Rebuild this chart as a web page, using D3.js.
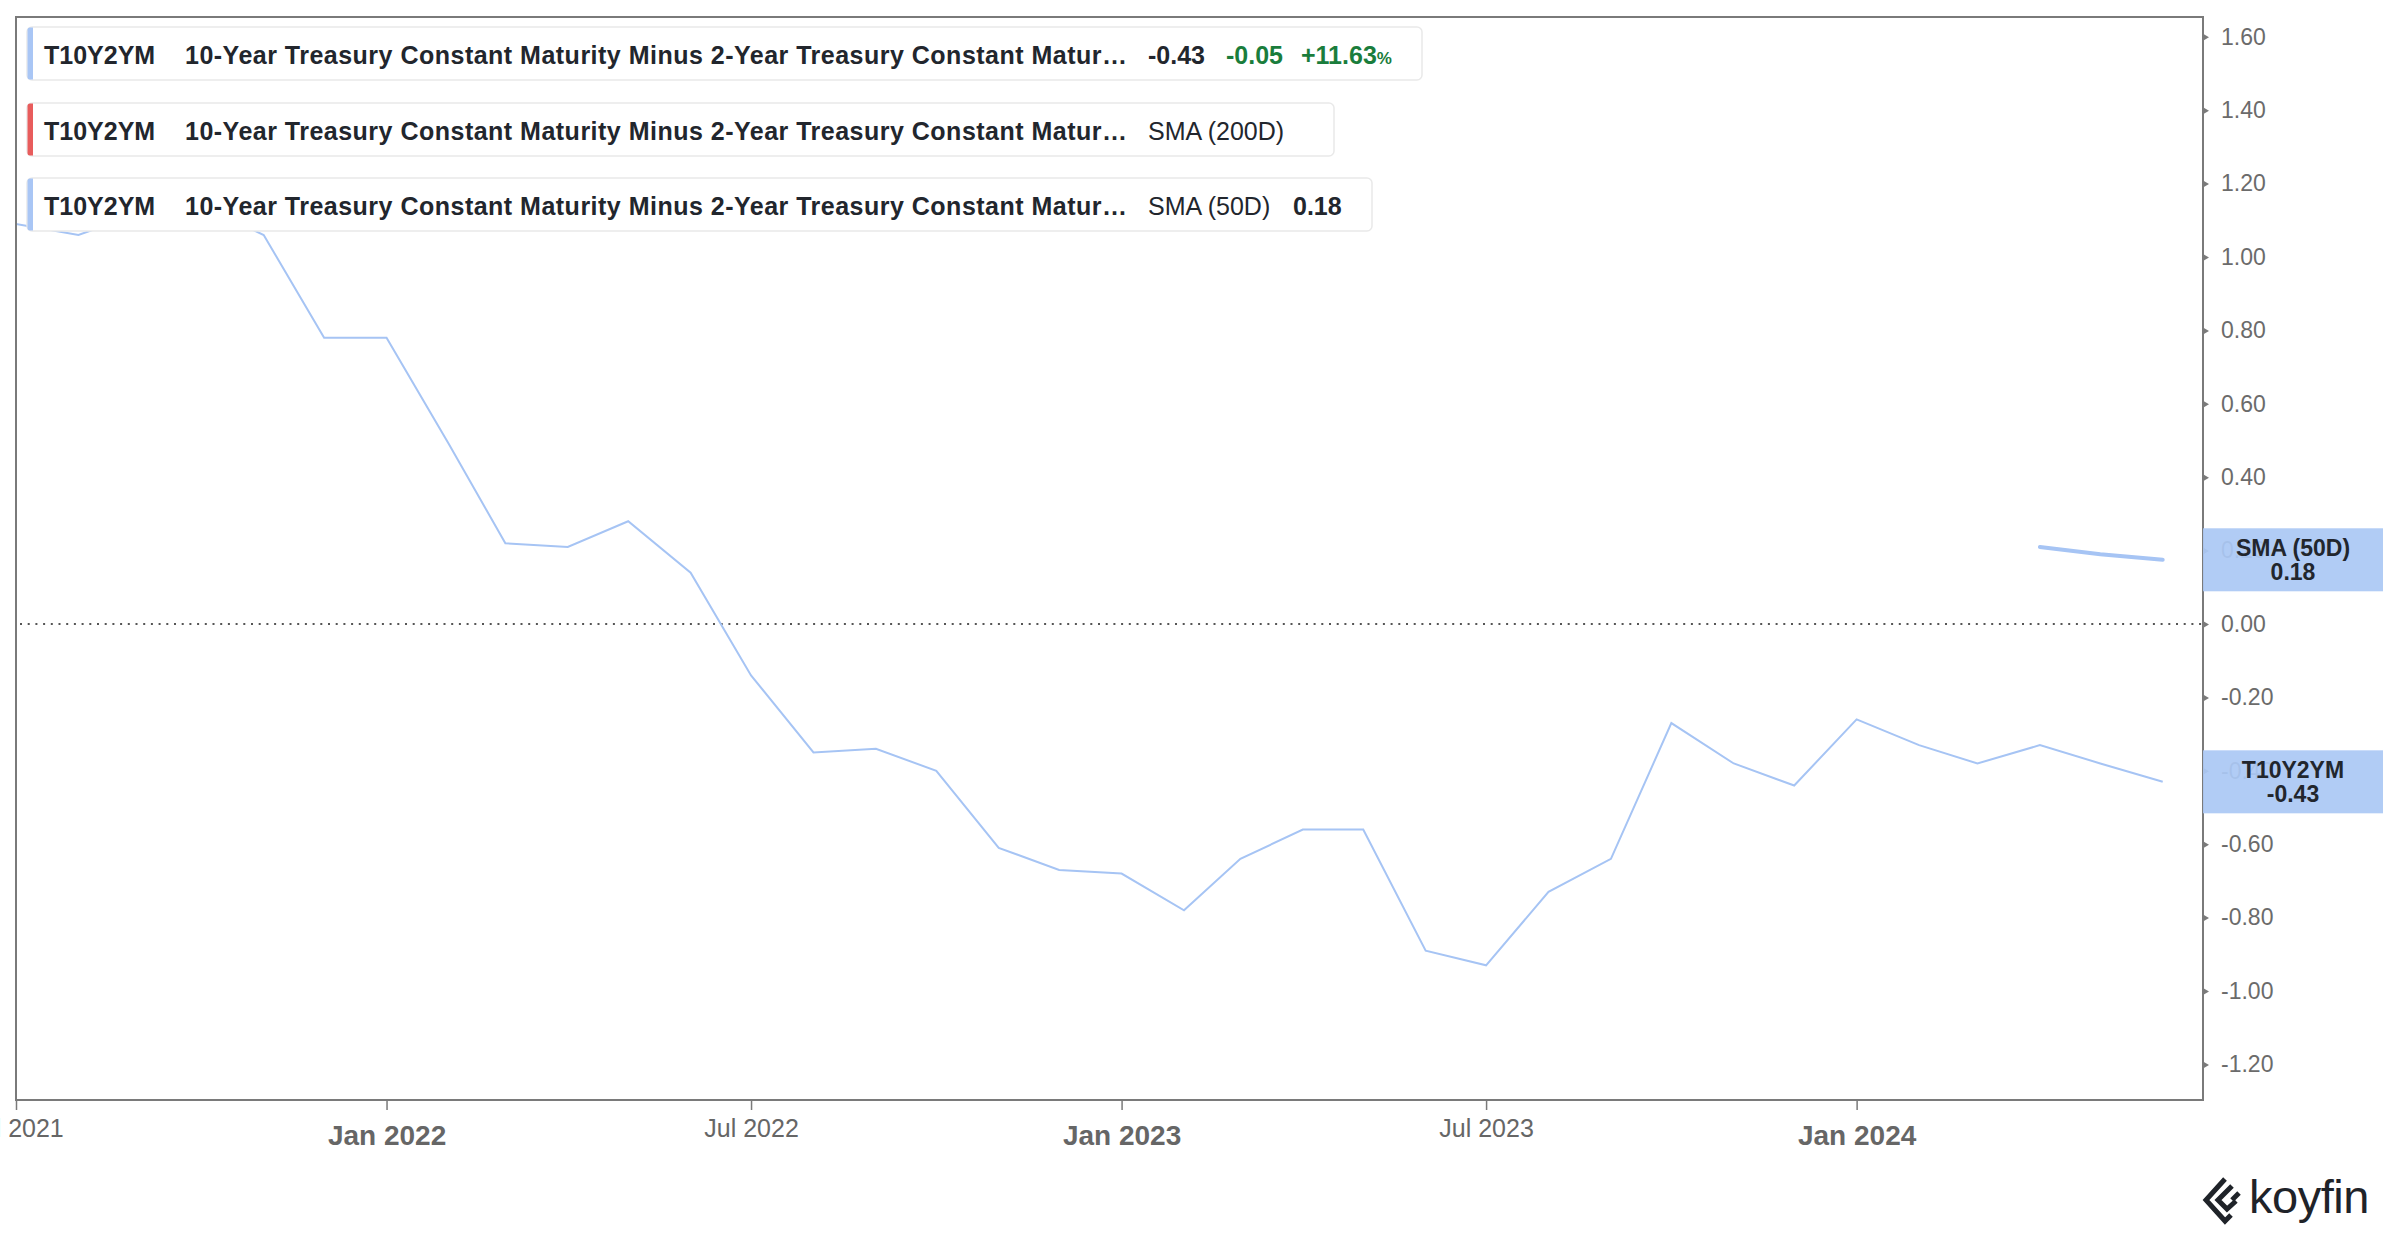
<html>
<head>
    <script src="https://d3js.org/d3.v7.min.js"></script>
    <style>
        body {
            margin: 0;
            background-color: white;
            font-family: "Liberation Sans", Arial, Helvetica, sans-serif;
        }
    </style>
</head>
<body>
    <div id="chart"></div>
    <script>
        // monthly values (1st of each month)
        var months = [
            "2021-07-01", "2021-08-01", "2021-09-01", "2021-10-01", "2021-11-01", "2021-12-01",
            "2022-01-01", "2022-02-01", "2022-03-01", "2022-04-01", "2022-05-01", "2022-06-01",
            "2022-07-01", "2022-08-01", "2022-09-01", "2022-10-01", "2022-11-01", "2022-12-01",
            "2023-01-01", "2023-02-01", "2023-03-01", "2023-04-01", "2023-05-01", "2023-06-01",
            "2023-07-01", "2023-08-01", "2023-09-01", "2023-10-01", "2023-11-01", "2023-12-01",
            "2024-01-01", "2024-02-01", "2024-03-01", "2024-04-01", "2024-05-01", "2024-06-01"
        ];
        var t10y2ym = [
            1.09, 1.06, 1.12, 1.14, 1.06, 0.78,
            0.78, 0.49, 0.22, 0.21, 0.28, 0.14,
            -0.14, -0.35, -0.34, -0.40, -0.61, -0.67,
            -0.68, -0.78, -0.64, -0.56, -0.56, -0.89,
            -0.93, -0.73, -0.64, -0.27, -0.38, -0.44,
            -0.26, -0.33, -0.38, -0.33, -0.38, -0.43
        ];
        var smaMonths = ["2024-04-01", "2024-05-01", "2024-06-01"];
        var sma50 = [0.21, 0.19, 0.175];

        var yTicks = [1.6, 1.4, 1.2, 1.0, 0.8, 0.6, 0.4, 0.2, 0, -0.2, -0.4, -0.6, -0.8, -1.0, -1.2];
        var xTickDates = ["2021-07-01", "2022-01-01", "2022-07-01", "2023-01-01", "2023-07-01", "2024-01-01"];
        var xTickLabels = ["Jul 2021", "Jan 2022", "Jul 2022", "Jan 2023", "Jul 2023", "Jan 2024"];

        var legendRows = [
            { color: "#e85c5c", extra: "SMA (200D)", value: null },
            { color: "#a9c6f5", extra: "SMA (50D)", value: "0.18" }
        ];

        var width = 2400,
            height = 1240,
            plot = { left: 16, right: 2203, top: 17, bottom: 1100 },
            lineColor = "#a6c4f4",
            textDark = "#22262d",
            green = "#1a7d3c",
            axisGray = "#7a7a7a";

        var parse = d3.timeParse("%Y-%m-%d");

        var series = months.map(function (m, i) { return { date: parse(m), value: t10y2ym[i] }; });
        var smaSeries = smaMonths.map(function (m, i) { return { date: parse(m), value: sma50[i] }; });

        var x = d3.scaleTime()
            .domain([parse("2021-07-01"), parse("2024-06-21")])
            .range([plot.left, plot.right]);
        var y = d3.scaleLinear()
            .domain([-1.297, 1.654])
            .range([plot.bottom, plot.top]);

        var svg = d3.select("#chart").append("svg")
            .attr("width", width)
            .attr("height", height)
            .style("display", "block");

        svg.append("rect").attr("width", width).attr("height", height).attr("fill", "white");

        svg.append("defs").append("clipPath")
            .attr("id", "clip")
            .append("rect")
            .attr("x", plot.left)
            .attr("y", plot.top)
            .attr("width", plot.right - plot.left)
            .attr("height", plot.bottom - plot.top);

        // zero line
        svg.append("line")
            .attr("x1", plot.left + 4).attr("x2", plot.right)
            .attr("y1", y(0)).attr("y2", y(0))
            .attr("stroke", "#555")
            .attr("stroke-width", 2)
            .attr("stroke-dasharray", "2,5.7");

        var line = d3.line()
            .x(function (d) { return x(d.date); })
            .y(function (d) { return y(d.value); });

        var lines = svg.append("g").attr("clip-path", "url(#clip)");
        lines.append("path")
            .datum(series)
            .attr("d", line)
            .attr("fill", "none")
            .attr("stroke", lineColor)
            .attr("stroke-width", 2);
        lines.append("path")
            .datum(smaSeries)
            .attr("d", line)
            .attr("fill", "none")
            .attr("stroke", lineColor)
            .attr("stroke-width", 4)
            .attr("stroke-linecap", "round");

        // frame
        svg.append("rect")
            .attr("x", plot.left).attr("y", plot.top)
            .attr("width", plot.right - plot.left)
            .attr("height", plot.bottom - plot.top)
            .attr("fill", "none")
            .attr("stroke", axisGray)
            .attr("stroke-width", 2);

        // right axis
        var yAxis = svg.append("g")
            .attr("transform", "translate(" + plot.right + ",0)")
            .call(d3.axisRight(y).tickValues(yTicks).tickSize(0).tickPadding(18)
                .tickFormat(function (d) { return d.toFixed(2); }));
        yAxis.select(".domain").remove();
        yAxis.selectAll(".tick text")
            .attr("fill", "#6b6b6b")
            .style("font-size", "23px")
            .style("font-family", "'Liberation Sans', Arial, sans-serif");
        yAxis.selectAll(".tick").append("path")
            .attr("d", "M0,-3.5L6,0L0,3.5Z")
            .attr("fill", axisGray);

        // bottom axis
        var xAxis = svg.append("g")
            .attr("transform", "translate(0," + plot.bottom + ")")
            .call(d3.axisBottom(x).tickValues(xTickDates.map(parse)).tickSize(10).tickPadding(14)
                .tickFormat(function (d, i) { return xTickLabels[i]; }));
        xAxis.select(".domain").remove();
        xAxis.selectAll(".tick line").attr("stroke", axisGray).attr("stroke-width", 1.5);
        xAxis.selectAll(".tick text")
            .style("font-family", "'Liberation Sans', Arial, sans-serif")
            .attr("fill", "#666")
            .each(function (d, i) {
                var isJan = xTickLabels[i].indexOf("Jan") === 0;
                d3.select(this)
                    .style("font-size", isJan ? "28px" : "25px")
                    .style("font-weight", isJan ? "bold" : "normal")
                    .attr("dy", isJan ? "0.74em" : "0.52em");
            });

        // value boxes on the right axis
        var lastMain = series[series.length - 1], lastSma = smaSeries[smaSeries.length - 1];
        var tags = [
            { name: "SMA (50D)", value: lastSma.value, label: "0.18" },
            { name: "T10Y2YM", value: lastMain.value, label: lastMain.value.toFixed(2) }
        ];
        var tag = svg.append("g").selectAll("g").data(tags).enter().append("g")
            .attr("transform", function (d) { return "translate(" + plot.right + "," + y(d.value) + ")"; });
        tag.append("rect")
            .attr("x", 0).attr("y", -31.5)
            .attr("width", 180).attr("height", 63)
            .attr("fill", "#abc8f4")
            .attr("fill-opacity", 0.93);
        tag.append("text")
            .attr("x", 90).attr("y", -4)
            .attr("text-anchor", "middle")
            .attr("fill", textDark)
            .style("font-size", "23px").style("font-weight", "bold")
            .text(function (d) { return d.name; });
        tag.append("text")
            .attr("x", 90).attr("y", 20)
            .attr("text-anchor", "middle")
            .attr("fill", textDark)
            .style("font-size", "23px").style("font-weight", "bold")
            .text(function (d) { return d.label; });

        // legend boxes
        var legend = svg.append("g");
        var longName = "10-Year Treasury Constant Maturity Minus 2-Year Treasury Constant Matur\u2026";

        function legendBox(top, right, color) {
            var g = legend.append("g").attr("transform", "translate(27," + top + ")");
            g.append("rect")
                .attr("x", 0).attr("y", 0)
                .attr("width", right - 27).attr("height", 53)
                .attr("rx", 5)
                .attr("fill", "white")
                .attr("stroke", "#e9e9e9")
                .attr("stroke-width", 1.5);
            g.append("path")
                .attr("d", "M6,0.5 L6,52.5 L3,52.5 Q0.5,52.5 0.5,50 L0.5,3 Q0.5,0.5 3,0.5 Z")
                .attr("fill", color);
            g.append("text")
                .attr("x", 17).attr("y", 36.5)
                .attr("fill", textDark)
                .style("font-size", "25px").style("font-weight", "bold")
                .text("T10Y2YM");
            g.append("text")
                .attr("x", 158).attr("y", 36.5)
                .attr("fill", textDark)
                .attr("textLength", 942)
                .attr("lengthAdjust", "spacing")
                .style("font-size", "25px").style("font-weight", "bold")
                .text(longName);
            return g;
        }

        var b1 = legendBox(27, 1422, "#a9c6f5");
        b1.append("text").attr("x", 1121).attr("y", 36.5).attr("fill", textDark)
            .style("font-size", "25px").style("font-weight", "bold").text(lastMain.value.toFixed(2));
        b1.append("text").attr("x", 1199).attr("y", 36.5).attr("fill", green)
            .style("font-size", "25px").style("font-weight", "bold").text("-0.05");
        var pct = b1.append("text").attr("x", 1274).attr("y", 36.5).attr("fill", green)
            .style("font-size", "25px").style("font-weight", "bold");
        pct.append("tspan").text("+11.63");
        pct.append("tspan").style("font-size", "17px").text("%");

        var tops = [103, 178], rights = [1334, 1372];
        legendRows.forEach(function (r, i) {
            var g = legendBox(tops[i], rights[i], r.color);
            g.append("text").attr("x", 1121).attr("y", 36.5).attr("fill", textDark)
                .style("font-size", "25px").text(r.extra);
            if (r.value) {
                g.append("text").attr("x", 1266).attr("y", 36.5).attr("fill", textDark)
                    .style("font-size", "25px").style("font-weight", "bold").text(r.value);
            }
        });

        // koyfin logo
        var logo = svg.append("g").attr("transform", "translate(2203,1177)");
        logo.append("path")
            .attr("d", "M22,2 L3,23 L22,44 L28,38")
            .attr("fill", "none").attr("stroke", "#1f2329").attr("stroke-width", 5);
        logo.append("path")
            .attr("d", "M29,9 L15,23 L24,32 L33,24")
            .attr("fill", "none").attr("stroke", "#1f2329").attr("stroke-width", 5);
        logo.append("path")
            .attr("d", "M36,16 L29,23")
            .attr("fill", "none").attr("stroke", "#1f2329").attr("stroke-width", 5);
        logo.append("text")
            .attr("x", 46).attr("y", 36)
            .attr("fill", "#1f2329")
            .style("font-size", "47px")
            .style("letter-spacing", "-0.5px")
            .text("koyfin");
    </script>
</body>
</html>
